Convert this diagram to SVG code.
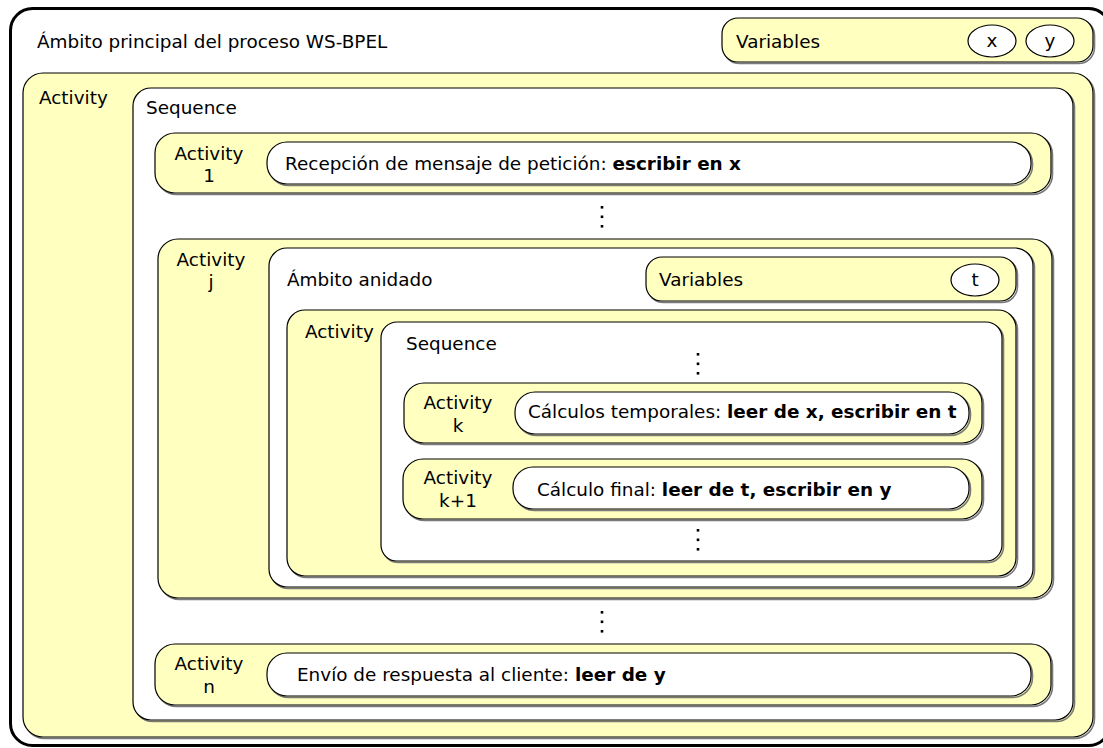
<svg xmlns="http://www.w3.org/2000/svg" width="1103" height="748" viewBox="0 0 1103 748">
  <style>
    text { font-family: "DejaVu Sans", "Liberation Sans", sans-serif; font-size: 18.4px; fill: #000; }
    .b { font-weight: bold; }
    .mid { text-anchor: middle; }
    .y { fill: #ffffc0; stroke: #000; stroke-width: 1.2; }
    .w { fill: #ffffff; stroke: #000; stroke-width: 1.2; }
    .sh { fill: none; stroke: #7a7a7a; stroke-width: 1.6; }
    .dot { fill: #000; }
  </style>
  <defs>
    <g id="dots">
      <rect x="-1.3" y="0" width="2.6" height="2.6" class="dot"/>
      <rect x="-1.3" y="9.5" width="2.6" height="2.6" class="dot"/>
      <rect x="-1.3" y="19" width="2.6" height="2.6" class="dot"/>
    </g>
  </defs>

  <!-- main process scope -->
  <g id="scope-main">
    <rect x="10.5" y="8.5" width="1100" height="737" rx="22" fill="#ffffff" stroke="#000" stroke-width="3"/>
    <text x="37" y="48">Ámbito principal del proceso WS-BPEL</text>
  </g>

  <!-- global variables -->
  <g id="vars-main">
    <rect x="723.5" y="19.5" width="371" height="44" rx="16" class="sh"/>
    <rect x="722" y="18" width="371" height="44" rx="16" class="y"/>
    <text x="736" y="48">Variables</text>
    <ellipse cx="992" cy="41" rx="24" ry="16" class="w"/>
    <text x="992" y="47" class="mid">x</text>
    <ellipse cx="1050" cy="41" rx="24" ry="16" class="w"/>
    <text x="1050" y="47" class="mid">y</text>
  </g>

  <!-- top-level activity -->
  <g id="activity-main">
    <rect x="24.5" y="74.5" width="1070" height="664" rx="20" class="sh"/>
    <rect x="23" y="73" width="1070" height="664" rx="20" class="y"/>
    <text x="39" y="104">Activity</text>
  </g>

  <!-- main sequence -->
  <g id="sequence-main">
    <rect x="134.5" y="89.5" width="940" height="632" rx="18" class="sh"/>
    <rect x="133" y="88" width="940" height="632" rx="18" class="w"/>
    <text x="146" y="114">Sequence</text>
  </g>

  <!-- activity 1 -->
  <g id="activity-1">
    <rect x="156.5" y="134.5" width="896" height="60" rx="20" class="sh"/>
    <rect x="155" y="133" width="896" height="60" rx="20" class="y"/>
    <text x="209" y="160" class="mid">Activity</text>
    <text x="209" y="182" class="mid">1</text>
    <rect x="268.5" y="143.5" width="764" height="42" rx="20" class="sh"/>
    <rect x="267" y="142" width="764" height="42" rx="20" class="w"/>
    <text x="285" y="170">Recepción de mensaje de petición: <tspan class="b">escribir en x</tspan></text>
  </g>

  <!-- activity j -->
  <g id="activity-j">
    <rect x="159.5" y="240.5" width="894" height="359" rx="20" class="sh"/>
    <rect x="158" y="239" width="894" height="359" rx="20" class="y"/>
    <text x="211" y="266" class="mid">Activity</text>
    <text x="211" y="288" class="mid">j</text>
  </g>

  <!-- nested scope -->
  <g id="scope-nested">
    <rect x="270.5" y="249.5" width="764" height="339" rx="18" class="sh"/>
    <rect x="269" y="248" width="764" height="339" rx="18" class="w"/>
    <text x="287" y="286">Ámbito anidado</text>
  </g>

  <!-- nested variables -->
  <g id="vars-nested">
    <rect x="647.5" y="258.5" width="370" height="44" rx="16" class="sh"/>
    <rect x="646" y="257" width="370" height="44" rx="16" class="y"/>
    <text x="659" y="286">Variables</text>
    <ellipse cx="975" cy="280" rx="24" ry="16" class="w"/>
    <text x="975" y="286" class="mid">t</text>
  </g>

  <!-- nested activity -->
  <g id="activity-nested">
    <rect x="288.5" y="311.5" width="729" height="266" rx="18" class="sh"/>
    <rect x="287" y="310" width="729" height="266" rx="18" class="y"/>
    <text x="305" y="338">Activity</text>
  </g>

  <!-- nested sequence -->
  <g id="sequence-nested">
    <rect x="382.5" y="323.5" width="621" height="239" rx="16" class="sh"/>
    <rect x="381" y="322" width="621" height="239" rx="16" class="w"/>
    <text x="406" y="350">Sequence</text>
  </g>

  <!-- activity k -->
  <g id="activity-k">
    <rect x="405.5" y="384.5" width="578" height="60" rx="20" class="sh"/>
    <rect x="404" y="383" width="578" height="60" rx="20" class="y"/>
    <text x="458" y="409" class="mid">Activity</text>
    <text x="458" y="432" class="mid">k</text>
    <rect x="516.5" y="393.5" width="454" height="42" rx="20" class="sh"/>
    <rect x="515" y="392" width="454" height="42" rx="20" class="w"/>
    <text x="528" y="418">Cálculos temporales: <tspan class="b">leer de x, escribir en t</tspan></text>
  </g>

  <!-- activity k+1 -->
  <g id="activity-k1">
    <rect x="404.5" y="460.5" width="579" height="60" rx="20" class="sh"/>
    <rect x="403" y="459" width="579" height="60" rx="20" class="y"/>
    <text x="458" y="484" class="mid">Activity</text>
    <text x="458" y="507" class="mid">k+1</text>
    <rect x="514.5" y="468.5" width="456" height="42" rx="20" class="sh"/>
    <rect x="513" y="467" width="456" height="42" rx="20" class="w"/>
    <text x="537" y="496">Cálculo final: <tspan class="b">leer de t, escribir en y</tspan></text>
  </g>

  <!-- activity n -->
  <g id="activity-n">
    <rect x="156.5" y="645.5" width="896" height="61" rx="20" class="sh"/>
    <rect x="155" y="644" width="896" height="61" rx="20" class="y"/>
    <text x="209" y="670" class="mid">Activity</text>
    <text x="209" y="693" class="mid">n</text>
    <rect x="268.5" y="654.5" width="764" height="43" rx="20" class="sh"/>
    <rect x="267" y="653" width="764" height="43" rx="20" class="w"/>
    <text x="297" y="681">Envío de respuesta al cliente: <tspan class="b">leer de y</tspan></text>
  </g>

  <!-- ellipsis markers between activities -->
  <g id="connectors">
    <use href="#dots" x="602" y="206"/>
    <use href="#dots" x="602" y="611"/>
    <use href="#dots" x="698" y="353"/>
    <use href="#dots" x="698" y="529"/>
  </g>
</svg>
